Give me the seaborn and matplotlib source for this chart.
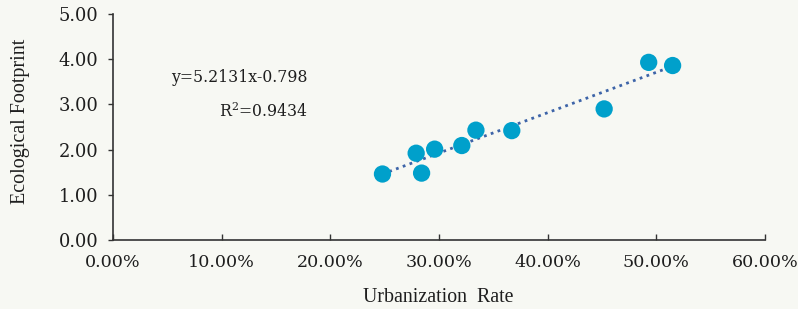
import numpy as np
import pandas as pd
import matplotlib
matplotlib.use('Agg')
import matplotlib.pyplot as plt
import seaborn as sns
from matplotlib.ticker import FuncFormatter

# --- DATA ---
urbanization = [0.248, 0.279, 0.284, 0.296, 0.321, 0.334, 0.367, 0.452, 0.493, 0.515]
footprint = [1.46, 1.92, 1.48, 2.01, 2.09, 2.43, 2.42, 2.90, 3.93, 3.86]
eq_text = 'y=5.2131x-0.798'
r2_text = 'R$^{2}$=0.9434'
x_ticks = [0.0, 0.1, 0.2, 0.3, 0.4, 0.5, 0.6]
y_ticks = [0.0, 1.0, 2.0, 3.0, 4.0, 5.0]

df = pd.DataFrame({'Urbanization Rate': urbanization, 'Ecological Footprint': footprint})

# --- STYLE ---
sns.set_style('ticks')
bg = '#f7f8f3'
ink = '#1e1e1e'
plt.rcParams['font.family'] = ['DejaVu Serif']
plt.rcParams['mathtext.fontset'] = 'dejavuserif'

fig = plt.figure(figsize=(7.98, 3.09), dpi=100, facecolor=bg)
ax = fig.add_axes([0.1416, 0.2233, 0.817, 0.7314])
ax.set_facecolor(bg)

# trendline (linear fit)
sns.regplot(data=df, x='Urbanization Rate', y='Ecological Footprint', ax=ax,
            scatter=False, ci=None, truncate=True,
            line_kws={'color': '#3d64a8', 'linestyle': (0, (1, 1.6)), 'linewidth': 2})

# points
sns.scatterplot(data=df, x='Urbanization Rate', y='Ecological Footprint', ax=ax,
                color='#00a0cb', s=155, edgecolor='none', zorder=3)

ax.set_xlim(0, 0.6)
ax.set_ylim(0, 5)
ax.set_xticks(x_ticks)
ax.set_yticks(y_ticks)
ax.xaxis.set_major_formatter(FuncFormatter(lambda v, p: f'{v*100:.2f}%'))
ax.yaxis.set_major_formatter(FuncFormatter(lambda v, p: f'{v:.2f}'))
ax.tick_params(axis='x', direction='in', length=4, width=1, colors='#333333',
               labelcolor=ink, labelsize=12.6, pad=10)
ax.tick_params(axis='y', direction='out', length=3.6, width=1, colors='#333333',
               labelcolor=ink, labelsize=12.9, pad=7)

sns.despine(ax=ax)
for s in ['left', 'bottom']:
    ax.spines[s].set_color('#333333')
    ax.spines[s].set_linewidth(1.2)

ax.set_xlabel('Urbanization  Rate', fontsize=14.3, color=ink,
              family='Liberation Serif')
ax.set_ylabel('Ecological Footprint', fontsize=14.5, color=ink,
              family='Liberation Serif')
ax.xaxis.set_label_coords(0.499, -0.214)
ax.yaxis.set_label_coords(-0.127, 0.527)

ax.text(0.179, 3.6, eq_text, ha='right', va='center', fontsize=11.3, color=ink)
ax.text(0.179, 2.85, r2_text, ha='right', va='center', fontsize=11.3, color=ink)

fig.savefig('out.png', dpi=100, facecolor=bg)
